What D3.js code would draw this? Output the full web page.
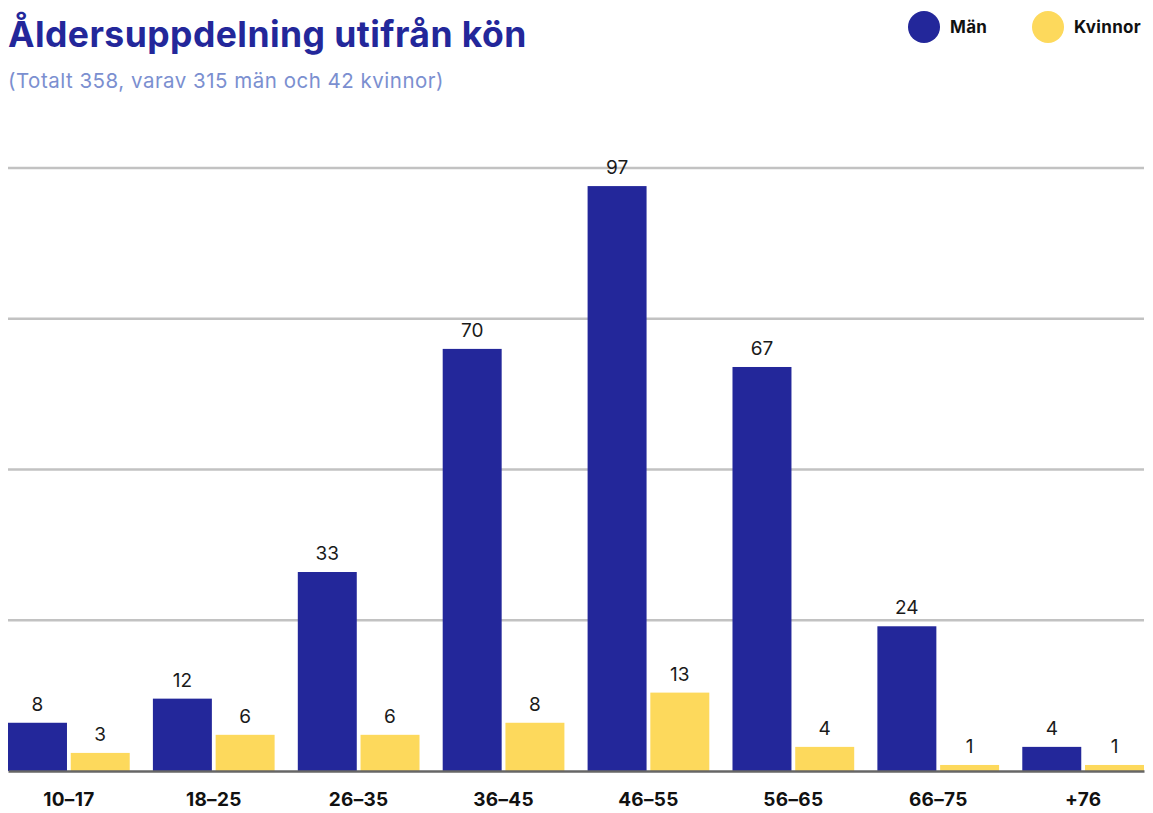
<!DOCTYPE html>
<html>
<head>
<meta charset="utf-8">
<script src="https://cdn.jsdelivr.net/npm/d3@7"></script>
<style>
  html, body { margin: 0; padding: 0; background: #fff; }
  svg { display: block; }
</style>
</head>
<body>
<svg id="chart" width="1153" height="813"></svg>
<script>
const categories = ["10–17", "18–25", "26–35", "36–45", "46–55", "56–65", "66–75", "+76"];
const men = [8, 12, 33, 70, 97, 67, 24, 4];
const women = [3, 6, 6, 8, 13, 4, 1, 1];
const seriesNames = ["Män", "Kvinnor"];
const gridTicks = [25, 50, 75, 100];
const titleText = "Åldersuppdelning utifrån kön";
const subtitleText = "(Totalt 358, varav 315 män och 42 kvinnor)";

const colors = { "Män": "#23279a", "Kvinnor": "#fdd95c" };
const FONT = "Inter, 'Open Sans', sans-serif";

const svg = d3.select("#chart");
const margin = { left: 8, right: 9, top: 168, bottom: 42 };
const W = 1153, H = 813;

const data = categories.map((c, i) => ({ cat: c, "Män": men[i], "Kvinnor": women[i] }));

const x0 = d3.scaleBand().domain(categories).range([margin.left, W - margin.right]).paddingInner(0.16).paddingOuter(0);
const x1 = d3.scaleBand().domain(seriesNames).range([0, x0.bandwidth()]).paddingInner(0.06);
const y = d3.scaleLinear().domain([0, 100]).range([H - margin.bottom, margin.top]);

// gridlines
svg.append("g").selectAll("line").data(gridTicks).join("line")
  .attr("x1", margin.left).attr("x2", W - margin.right)
  .attr("y1", d => y(d)).attr("y2", d => y(d))
  .attr("stroke", "#c2c2c2").attr("stroke-width", 2.5);

// bars
const groups = svg.append("g").selectAll("g").data(data).join("g")
  .attr("transform", d => `translate(${x0(d.cat)},0)`);

groups.selectAll("rect").data(d => seriesNames.map(s => ({ s, v: d[s] }))).join("rect")
  .attr("x", d => x1(d.s)).attr("width", x1.bandwidth())
  .attr("y", d => y(d.v)).attr("height", d => y(0) - y(d.v))
  .attr("fill", d => colors[d.s]);

groups.selectAll("text").data(d => seriesNames.map(s => ({ s, v: d[s] }))).join("text")
  .attr("x", d => x1(d.s) + x1.bandwidth() / 2)
  .attr("y", d => y(d.v) - 12)
  .attr("text-anchor", "middle")
  .attr("font-family", FONT).attr("font-size", 19).attr("font-weight", 400).attr("fill", "#1a1a1a")
  .text(d => d.v);

// baseline axis
const xAxis = d3.axisBottom(x0).tickSize(0).tickPadding(22);
const ax = svg.append("g").attr("transform", `translate(0,${y(0)})`).call(xAxis);
ax.select(".domain").attr("stroke", "#666").attr("stroke-width", 2.5);
ax.selectAll("text").attr("font-family", FONT).attr("font-weight", 700)
  .attr("font-size", 19).attr("letter-spacing", 0.3).attr("fill", "#111");

// title
svg.append("text").attr("x", 8).attr("y", 47)
  .attr("font-family", FONT).attr("font-weight", 700).attr("font-size", 35.5)
  .attr("letter-spacing", 0.45)
  .attr("fill", "#23279a").text(titleText);
svg.append("text").attr("x", 8).attr("y", 88)
  .attr("font-family", FONT).attr("font-size", 20.5).attr("font-weight", 400)
  .attr("letter-spacing", 0.5)
  .attr("fill", "#7b8fd0").text(subtitleText);

// legend
const legendX = [924, 1048];
const lg = svg.append("g").selectAll("g").data(seriesNames).join("g")
  .attr("transform", (d, i) => `translate(${legendX[i]},27)`);
lg.append("circle").attr("r", 16).attr("fill", d => colors[d]);
lg.append("text").attr("x", 26).attr("y", 6)
  .attr("font-family", FONT).attr("font-weight", 700).attr("font-size", 17)
  .attr("letter-spacing", 0.3)
  .attr("fill", "#111").text(d => d);
</script>
</body>
</html>
